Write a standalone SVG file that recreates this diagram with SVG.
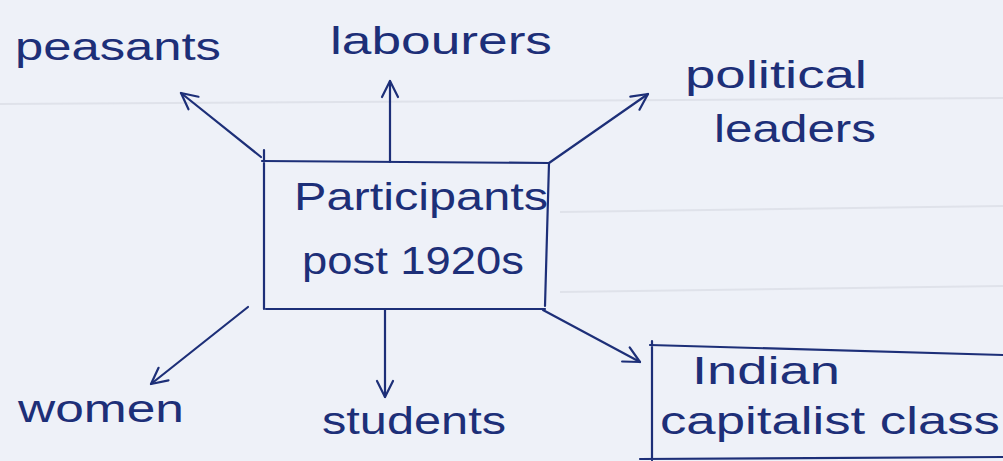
<svg xmlns="http://www.w3.org/2000/svg" width="1003" height="461" viewBox="0 0 1003 461">
  <style>
    .ink { fill: none; stroke: #1d2f78; stroke-width: 2.2; stroke-linecap: round; stroke-linejoin: round; }
    .lbl { fill: #1d2f78; font-family: "Liberation Sans", Arial, sans-serif; font-size: 38px; }
    .rule { stroke: #dfe2ea; stroke-width: 2; fill: none; }
  </style>
  <defs>
    <marker id="head" viewBox="0 0 20 20" refX="18" refY="10" markerWidth="20" markerHeight="20" markerUnits="userSpaceOnUse" orient="auto">
      <path d="M2,2 L18,10 L2,18" fill="none" stroke="#1d2f78" stroke-width="2.2" stroke-linecap="round" stroke-linejoin="round"/>
    </marker>
  </defs>

  <!-- paper -->
  <rect width="1003" height="461" fill="#eef1f8"/>
  <g id="paper-rules">
    <path class="rule" d="M0,104 L1003,98"/>
    <path class="rule" d="M560,212 L1003,206"/>
    <path class="rule" d="M560,292 L1003,286"/>
  </g>

  <!-- connectors -->
  <g id="connectors">
    <path class="ink" d="M261,157 L181,93" marker-end="url(#head)"/>
    <path class="ink" d="M390,162 L390,81" marker-end="url(#head)"/>
    <path class="ink" d="M549,163 L648,94" marker-end="url(#head)"/>
    <path class="ink" d="M248,307 L151,384" marker-end="url(#head)"/>
    <path class="ink" d="M385,310 L385,397" marker-end="url(#head)"/>
    <path class="ink" d="M543,310 L640,362" marker-end="url(#head)"/>
  </g>

  <!-- centre node -->
  <g id="participants">
    <path class="ink" d="M264,150 L264,309 M262,161 L549,163 L545,306 M266,309 L545,309"/>
    <text class="lbl" x="294" y="210" textLength="254" lengthAdjust="spacingAndGlyphs">Participants</text>
    <text class="lbl" x="302" y="274" textLength="222" lengthAdjust="spacingAndGlyphs">post 1920s</text>
  </g>

  <g id="peasants">
    <text class="lbl" x="15" y="60" textLength="206" lengthAdjust="spacingAndGlyphs">peasants</text>
  </g>
  <g id="labourers">
    <text class="lbl" x="330" y="54" textLength="222" lengthAdjust="spacingAndGlyphs">labourers</text>
  </g>
  <g id="political-leaders">
    <text class="lbl" x="685" y="88" textLength="182" lengthAdjust="spacingAndGlyphs">political</text>
    <text class="lbl" x="714" y="142" textLength="162" lengthAdjust="spacingAndGlyphs">leaders</text>
  </g>
  <g id="women">
    <text class="lbl" x="18" y="422" textLength="166" lengthAdjust="spacingAndGlyphs">women</text>
  </g>
  <g id="students">
    <text class="lbl" x="322" y="434" textLength="184" lengthAdjust="spacingAndGlyphs">students</text>
  </g>
  <g id="indian-capitalist-class">
    <path class="ink" d="M652,341 L652,460 M650,345 L1003,355 M640,459 L1003,457"/>
    <text class="lbl" x="692" y="384" textLength="148" lengthAdjust="spacingAndGlyphs">Indian</text>
    <text class="lbl" x="660" y="434" textLength="340" lengthAdjust="spacingAndGlyphs">capitalist class</text>
  </g>
</svg>
